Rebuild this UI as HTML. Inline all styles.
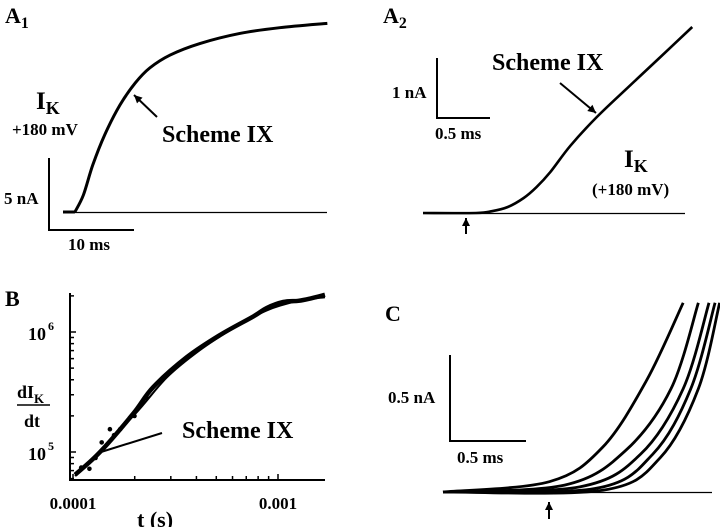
<!DOCTYPE html>
<html><head><meta charset="utf-8">
<style>
body{margin:0;background:#fff;}
svg{display:block;font-family:"Liberation Serif",serif;font-weight:bold;}
</style></head>
<body>
<svg width="720" height="527" viewBox="0 0 720 527">
<g id="a1"></g>
<g id="a2"></g>
<g id="pb"></g>
<g id="pc"></g>
</svg>
<script>
// Panel A1 data (ms, nA)
const a1Time = [1.4, 2.4, 3.5, 4.9, 6.7, 8.5, 10.2, 12.6, 16.1, 20.8, 25.5, 31.1];
const a1Current = [0, 1.18, 3.26, 5.35, 7.43, 8.96, 10.0, 10.9, 11.7, 12.4, 12.8, 13.1];
// Panel A2 data (ms, nA)
const a2Time = [0, 0.5, 0.65, 0.8, 0.95, 1.07, 1.2, 1.39, 1.64, 1.95, 2.24, 2.54];
const a2Current = [0, 0, 0.03, 0.1, 0.25, 0.43, 0.68, 1.12, 1.6, 2.12, 2.6, 3.1];
// Panel B data (log10 t, log10 dI/dt)
const bLogT = [-3.99, -3.868, -3.706, -3.609, -3.445, -3.283, -3.12, -3.055, -2.974, -2.90, -2.84, -2.771];
const bLogY = [4.81, 5.0, 5.32, 5.54, 5.79, 5.975, 6.13, 6.20, 6.25, 6.26, 6.28, 6.31];
const bDotT = [-3.96, -3.92, -3.89, -3.86, -3.82, -3.80, -3.77, -3.70, -3.64];
const bDotY = [4.87, 4.86, 4.95, 5.08, 5.19, 5.14, 5.19, 5.30, 5.45];
const bFitT = [-3.99, -3.706, -3.543, -3.38, -3.218, -3.055, -2.90, -2.771];
const bFitY = [4.80, 5.30, 5.62, 5.85, 6.03, 6.18, 6.26, 6.29];
const bTickLabels = ["0.0001", "0.001"];
// Panel C data (ms, nA) per trace
const cTimes = [
 [0, 0.7, 1.05, 1.34, 1.58],
 [0, 0.8, 1.2, 1.5, 1.68],
 [0, 0.9, 1.3, 1.58, 1.75],
 [0, 1.0, 1.38, 1.63, 1.79],
 [0, 1.05, 1.43, 1.68, 1.82]];
const cCurrents = [
 [0, 0.06, 0.26, 0.65, 1.1],
 [0, 0.04, 0.24, 0.6, 1.1],
 [0, 0.03, 0.22, 0.6, 1.1],
 [0, 0.02, 0.22, 0.6, 1.1],
 [0, 0.01, 0.2, 0.6, 1.1]];

const NS = "http://www.w3.org/2000/svg";
function mk(parent, tag, attrs, text){
  const e = document.createElementNS(NS, tag);
  for (const k in attrs) e.setAttribute(k, attrs[k]);
  if (text !== undefined) e.textContent = text;
  parent.appendChild(e); return e;
}
function smooth(pts){
  let d = "M" + pts[0][0] + "," + pts[0][1];
  for (let i=0;i<pts.length-1;i++){
    const p0=pts[Math.max(0,i-1)],p1=pts[i],p2=pts[i+1],p3=pts[Math.min(pts.length-1,i+2)];
    const c1=[p1[0]+(p2[0]-p0[0])/6,p1[1]+(p2[1]-p0[1])/6];
    const c2=[p2[0]-(p3[0]-p1[0])/6,p2[1]-(p3[1]-p1[1])/6];
    d+=" C"+c1[0]+","+c1[1]+" "+c2[0]+","+c2[1]+" "+p2[0]+","+p2[1];
  }
  return d;
}
function label(g, x, y, txt, size, name, sub){
  const t = mk(g, "text", {x:x, y:y, "font-size":size});
  
  
  t.textContent = txt;
  if (sub){ mk(t, "tspan", {dy:5, "font-size":size*0.72}, sub); }
  return t;
}
function line(g, x1,y1,x2,y2,w,name){
  const l = mk(g,"line",{x1:x1,y1:y1,x2:x2,y2:y2,stroke:"#000","stroke-width":w});
  
  
  return l;
}
function arrowHead(g,x1,y1,x2,y2,name){
  line(g,x1,y1,x2,y2,2,name);
  const a=Math.atan2(y2-y1,x2-x1), L=8, W=4;
  const bx=x2-L*Math.cos(a), by=y2-L*Math.sin(a);
  const p=mk(g,"polygon",{points:x2+","+y2+" "+(bx+W*Math.sin(a))+","+(by-W*Math.cos(a))+" "+(bx-W*Math.sin(a))+","+(by+W*Math.cos(a)),fill:"#000"});
  
  
}

// ---- A1
(function(){
  const g=document.getElementById("a1");
  const x=t=>63+t*8.5, y=i=>212-i*14.4;
  label(g,5,23,"A",22,"panel-label-a1","1");
  line(g,63,212.5,327,212.5,1.2,"baseline");
  line(g,63,212,x(a1Time[0]),212,3,"trace-lead");
  const pts=a1Time.map((t,i)=>[x(t),y(a1Current[i])]);
  const p=mk(g,"path",{d:smooth(pts),fill:"none",stroke:"#000","stroke-width":3});
  
  
  line(g,49,158,49,231,2,"scale-bar-vertical");
  line(g,48,230,134,230,2,"scale-bar-horizontal");
  label(g,4,204,"5 nA",17,"scale-label-current");
  label(g,68,250,"10 ms",17,"scale-label-time");
  label(g,36,109,"I",25,"ik-label","K");
  label(g,12,135,"+180 mV",17,"voltage-label");
  label(g,162,142,"Scheme IX",24,"scheme-label");
  arrowHead(g,157,117,134,95,"scheme-arrow");
})();

// ---- A2
(function(){
  const g=document.getElementById("a2");
  const x=t=>423+t*106, y=i=>213-i*60;
  label(g,383,23,"A",22,"panel-label-a2","2");
  line(g,423,213.5,685,213.5,1.2,"baseline");
  const pts=a2Time.map((t,i)=>[x(t),y(a2Current[i])]);
  const p=mk(g,"path",{d:smooth(pts),fill:"none",stroke:"#000","stroke-width":2.6});
  
  
  line(g,437,58,437,119,2,"scale-bar-vertical");
  line(g,436,118,490,118,2,"scale-bar-horizontal");
  label(g,392,98,"1 nA",17,"scale-label-current");
  label(g,435,139,"0.5 ms",17,"scale-label-time");
  label(g,492,70,"Scheme IX",24,"scheme-label");
  arrowHead(g,560,83,596,113,"scheme-arrow");
  label(g,624,167,"I",25,"ik-label","K");
  label(g,592,195,"(+180 mV)",17,"voltage-label");
  arrowHead(g,466,234,466,218,"onset-arrow");
})();

// ---- B
(function(){
  const g=document.getElementById("pb");
  const x=lt=>73+(lt+4)*205, y=ly=>452-(ly-5)*120;
  label(g,5,306,"B",22,"panel-label-b");
  line(g,70,293,70,481,2,"y-axis");
  line(g,69,480,325,480,2,"x-axis");
  for (let d=4; d<=6; d++){
    for (let m=1;m<10;m++){
      const ly=d+Math.log10(m); const yy=y(ly);
      if (yy<293||yy>480) continue;
      line(g,70,yy,m===1?76:74,yy,1.5,"y-tick");
    }
  }
  for (let d=-4; d<=-3; d++){
    for (let m=1;m<10;m++){
      const lt=d+Math.log10(m); const xx=x(lt);
      if (xx<70||xx>325) continue;
      line(g,xx,480,xx,m===1?474:476,1.5,"x-tick");
    }
  }
  bTickLabels.forEach((s,i)=>{
    const t=label(g,x(-4+i),509,s,17,"x-tick-label");
    t.setAttribute("text-anchor","middle");
  });
  label(g,28,340,"10",18,"y-tick-label-1e6");
  label(g,48,330,"6",12,"y-exp-6");
  label(g,28,460,"10",18,"y-tick-label-1e5");
  label(g,48,450,"5",12,"y-exp-5");
  label(g,17,398,"dI",18,"y-title-num","K");
  line(g,17,405,50,405,1.5,"y-title-bar");
  label(g,24,427,"dt",18,"y-title-den");
  label(g,137,527,"t (s)",22,"x-axis-title");
  const dpts=bLogT.map((t,i)=>[x(t),y(bLogY[i])]);
  const d=mk(g,"path",{d:smooth(dpts),fill:"none",stroke:"#000","stroke-width":4.5});
  
  
  bDotT.forEach((t,i)=>{
    const c=mk(g,"circle",{cx:x(t),cy:y(bDotY[i]),r:2.3,fill:"#000"});
    
    
  });
  const fpts=bFitT.map((t,i)=>[x(t),y(bFitY[i])]);
  const f=mk(g,"path",{d:smooth(fpts),fill:"none",stroke:"#000","stroke-width":2});
  
  
  line(g,162,433,101,452,2,"scheme-pointer");
  label(g,182,438,"Scheme IX",24,"scheme-label");
})();

// ---- C
(function(){
  const g=document.getElementById("pc");
  const x=t=>443+t*152, y=i=>492-i*172;
  label(g,385,321,"C",22,"panel-label-c");
  line(g,443,492.5,712,492.5,1.2,"baseline");
  const cp=mk(g,"clipPath",{id:"cclip"});
  mk(cp,"rect",{x:400,y:302,width:320,height:200});
  cTimes.forEach((ts,k)=>{
    const pts=ts.map((t,i)=>[x(t),y(cCurrents[k][i])]);
    const p=mk(g,"path",{d:smooth(pts),fill:"none",stroke:"#000","stroke-width":2.8,"clip-path":"url(#cclip)"});
    
    
  });
  line(g,450,355,450,442,2,"scale-bar-vertical");
  line(g,449,441,526,441,2,"scale-bar-horizontal");
  label(g,388,403,"0.5 nA",17,"scale-label-current");
  label(g,457,463,"0.5 ms",17,"scale-label-time");
  arrowHead(g,549,519,549,502,"onset-arrow");
})();
</script>
</body></html>
